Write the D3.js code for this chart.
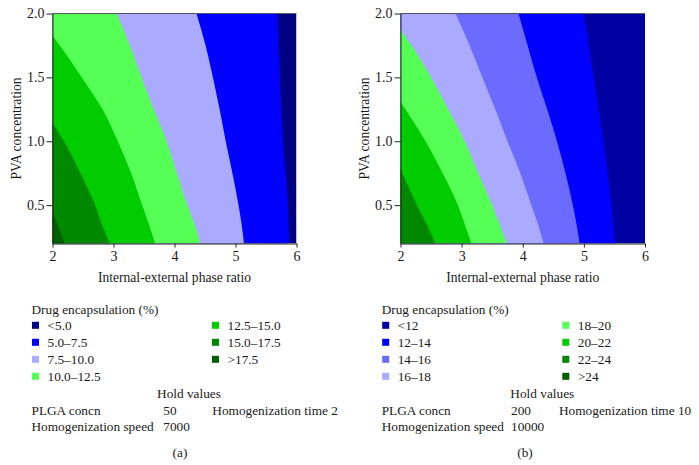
<!DOCTYPE html>
<html><head><meta charset="utf-8">
<script src="https://cdn.jsdelivr.net/npm/d3@7"></script>
<style>
body{margin:0;background:#fff;}
svg text{font-family:"Liberation Serif","DejaVu Serif",serif;fill:#1a1a1a;}
</style></head>
<body><svg id="c" width="699" height="465"></svg>
<script>
// ---- data ----
const yLevels = [0.2, 0.35, 0.5, 0.75, 1.0, 1.25, 1.5, 1.75, 2.0];
const xTicks = [2, 3, 4, 5, 6];
const yTicks = [0.5, 1.0, 1.5, 2.0];

// Chart (a): boundary x-positions (phase ratio) at each yLevel, between successive bands
const boundA1 = [5.88, 5.87, 5.86, 5.82, 5.78, 5.75, 5.73, 5.71, 5.69]; // <5.0 | 5.0-7.5
const boundA2 = [5.14, 5.10, 5.05, 4.95, 4.84, 4.74, 4.63, 4.51, 4.36]; // 5.0-7.5 | 7.5-10.0
const boundA3 = [4.42, 4.33, 4.21, 4.04, 3.87, 3.66, 3.46, 3.27, 3.05]; // 7.5-10.0 | 10.0-12.5
const boundA4 = [3.68, 3.58, 3.47, 3.29, 3.07, 2.82, 2.48, 2.12, 1.70]; // 10.0-12.5 | 12.5-15.0
const boundA5 = [2.94, 2.81, 2.70, 2.46, 2.19, 1.85, 1.45];             // 12.5-15.0 | 15.0-17.5
const boundA6 = [2.20, 2.08, 1.95, 1.70];                               // 15.0-17.5 | >17.5
const labelsA = ["<5.0", "5.0\u20137.5", "7.5\u201310.0", "10.0\u201312.5", "12.5\u201315.0", "15.0\u201317.5", ">17.5"];
const colorsA = ["#000082", "#0000ff", "#aaaaff", "#55ff55", "#00cc00", "#008800", "#006000"];
const holdA = ["50", "7000", "Homogenization time 2"];

// Chart (b)
const boundB1 = [5.51, 5.48, 5.45, 5.39, 5.32, 5.24, 5.16, 5.08, 5.00]; // <12 | 12-14
const boundB2 = [4.93, 4.88, 4.82, 4.70, 4.56, 4.40, 4.23, 4.08, 3.93]; // 12-14 | 14-16
const boundB3 = [4.34, 4.25, 4.14, 3.96, 3.75, 3.55, 3.34, 3.13, 2.90]; // 14-16 | 16-18
const boundB4 = [3.74, 3.62, 3.50, 3.27, 3.05, 2.78, 2.50, 2.18, 1.80]; // 16-18 | 18-20
const boundB5 = [3.16, 3.05, 2.94, 2.69, 2.41, 2.08, 1.70];             // 18-20 | 20-22
const boundB6 = [2.57, 2.43, 2.27, 2.03, 1.75];                         // 20-22 | 22-24
const labelsB = ["<12", "12\u201314", "14\u201316", "16\u201318", "18\u201320", "20\u201322", "22\u201324", ">24"];
const colorsB = ["#0000a2", "#0000ff", "#6b6bff", "#aaaaff", "#55ff55", "#00cc00", "#008800", "#006000"];
const holdB = ["200", "10000", "Homogenization time 10"];

const svg = d3.select("#c");
const FS = 13.3;

function drawChart(opt) {
  const x = d3.scaleLinear().domain([2, 6]).range([opt.left, opt.right]);
  const y = d3.scaleLinear().domain([0.2, 2.0]).range([243.5, 13.5]);
  const g = svg.append("g");
  const clipId = "clip" + opt.id;
  svg.append("clipPath").attr("id", clipId).append("rect")
    .attr("x", x(2)).attr("y", y(2)).attr("width", x(6) - x(2)).attr("height", y(0.2) - y(2));
  const plot = g.append("g").attr("clip-path", `url(#${clipId})`);
  plot.append("rect").attr("x", x(2)).attr("y", y(2))
    .attr("width", x(6) - x(2)).attr("height", y(0.2) - y(2)).attr("fill", opt.colors[0]);
  const area = d3.area().curve(d3.curveMonotoneY)
    .y(d => y(d[0])).x0(x(0.5)).x1(d => x(d[1]));
  opt.bounds.forEach((b, i) => {
    const pts = b.map((v, j) => [yLevels[j], v]);
    plot.append("path").attr("d", area(pts)).attr("fill", opt.colors[i + 1]);
  });
  // axes
  const xa = g.append("g").attr("transform", `translate(0,${y(0.2)})`)
    .call(d3.axisBottom(x).tickValues(xTicks).tickFormat(d3.format("d")).tickSize(4).tickSizeOuter(0).tickPadding(4));
  const ya = g.append("g").attr("transform", `translate(${x(2)},0)`)
    .call(d3.axisLeft(y).tickValues(yTicks).tickFormat(d3.format(".1f")).tickSize(6).tickSizeOuter(0).tickPadding(2));
  [xa, ya].forEach(a => {
    a.selectAll("text").attr("font-size", 14).attr("fill", "#1a1a1a").attr("font-family", "Liberation Serif");
    a.selectAll("path,line").attr("stroke", "#222");
  });
  g.append("line").attr("x1", x(2)).attr("x2", x(6)).attr("y1", y(2)).attr("y2", y(2))
    .attr("stroke", "#444").attr("stroke-width", 0.8);
  g.append("text").attr("x", (x(2) + x(6)) / 2).attr("y", 282).attr("text-anchor", "middle")
    .attr("font-size", 13.6).text("Internal-external phase ratio");
  g.append("text").attr("transform", `translate(${opt.left - 32},${(y(0.2) + y(2)) / 2}) rotate(-90)`)
    .attr("text-anchor", "middle").attr("font-size", 13.6).text("PVA concentration");

  // legend
  const L = opt.legendX;
  g.append("text").attr("x", L).attr("y", 314).attr("font-size", FS).text("Drug encapsulation (%)");
  const nLeft = opt.nLeft;
  opt.labels.forEach((lab, i) => {
    const col = i < nLeft ? 0 : 1;
    const row = i < nLeft ? i : i - nLeft;
    const sx = col === 0 ? L + 0.5 : opt.col2X;
    const cy = 325.3 + row * 17;
    g.append("rect").attr("x", sx).attr("y", cy - 3.5).attr("width", 7).attr("height", 7).attr("fill", opt.colors[i]);
    g.append("text").attr("x", sx + 15.5).attr("y", cy + 4.5).attr("font-size", FS).text(lab);
  });
  g.append("text").attr("x", opt.holdCX).attr("y", 397.5).attr("text-anchor", "middle").attr("font-size", FS).text("Hold values");
  g.append("text").attr("x", L).attr("y", 414.5).attr("font-size", FS).text("PLGA concn");
  g.append("text").attr("x", opt.valX).attr("y", 414.5).attr("font-size", FS).text(opt.hold[0]);
  g.append("text").attr("x", opt.timeX).attr("y", 414.5).attr("font-size", FS).text(opt.hold[2]);
  g.append("text").attr("x", L).attr("y", 431).attr("font-size", FS).text("Homogenization speed");
  g.append("text").attr("x", opt.valX).attr("y", 431).attr("font-size", FS).text(opt.hold[1]);
  g.append("text").attr("x", opt.capX).attr("y", 457).attr("text-anchor", "middle").attr("font-size", FS).text(opt.caption);
}

drawChart({id: "A", left: 52.5, right: 296.5, colors: colorsA, labels: labelsA,
  bounds: [boundA1, boundA2, boundA3, boundA4, boundA5, boundA6],
  legendX: 31.5, col2X: 212, nLeft: 4, holdCX: 189, valX: 163.3, timeX: 212.3, hold: holdA,
  capX: 180, caption: "(a)"});
drawChart({id: "B", left: 400.5, right: 645, colors: colorsB, labels: labelsB,
  bounds: [boundB1, boundB2, boundB3, boundB4, boundB5, boundB6],
  legendX: 381.7, col2X: 562.3, nLeft: 4, holdCX: 542.3, valX: 511, timeX: 559, hold: holdB,
  capX: 525, caption: "(b)"});
</script></body></html>
